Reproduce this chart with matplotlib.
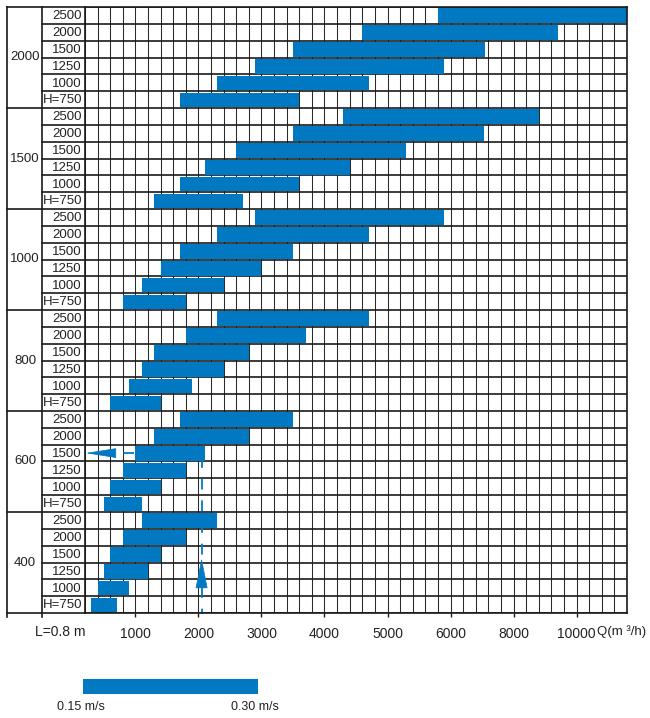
import numpy as np
import matplotlib
matplotlib.use('Agg')
import matplotlib.pyplot as plt

plt.rcParams['font.family'] = ['Liberation Sans', 'DejaVu Sans']

# ---------------- data ----------------
group_labels = ['2000', '1500', '1000', '800', '600', '400']
row_labels = ['2500', '2000', '1500', '1250', '1000', 'H=750']

start_2000 = [5800, 4600, 3500, 2900, 2300, 1700]
end_2000 = [11600, 9400, 7100, 5900, 4700, 3600]
start_1500 = [4300, 3500, 2600, 2100, 1700, 1300]
end_1500 = [8800, 7050, 5300, 4400, 3600, 2700]
start_1000 = [2900, 2300, 1700, 1400, 1100, 800]
end_1000 = [5900, 4700, 3500, 3000, 2400, 1800]
start_800 = [2300, 1800, 1300, 1100, 900, 600]
end_800 = [4700, 3700, 2800, 2400, 1900, 1400]
start_600 = [1700, 1300, 1000, 800, 600, 500]
end_600 = [3500, 2800, 2100, 1800, 1400, 1100]
start_400 = [1100, 800, 600, 500, 400, 300]
end_400 = [2300, 1800, 1400, 1200, 900, 700]

tick_values = [1000, 2000, 3000, 4000, 5000, 6000, 8000, 10000]
tick_labels = ['1000', '2000', '3000', '4000', '5000', '6000', '8000', '10000']
q_min, q_break, q_max = 200, 6000, 11600
step_low, step_high = 200, 400

# example (reading) line
example_q = 2050
example_from_q = 1000

starts = [start_2000, start_1500, start_1000, start_800, start_600, start_400]
ends = [end_2000, end_1500, end_1000, end_800, end_600, end_400]

# ---------------- scale ----------------
n_low = (q_break - q_min) / step_low


def fwd(q):
    q = np.asarray(q, dtype=float)
    return np.where(q < q_break, (q - q_min) / step_low, n_low + (q - q_break) / step_high)


def inv(u):
    u = np.asarray(u, dtype=float)
    return np.where(u < n_low, q_min + step_low * u, q_break + step_high * (u - n_low))


W, H = 650, 718
fig = plt.figure(figsize=(W / 100, H / 100), dpi=100)

gl, gr, gt, gb = 85, 627, 7, 613
ax = fig.add_axes([gl / W, 1 - gb / H, (gr - gl) / W, (gb - gt) / H])
ax.set_xscale('function', functions=(fwd, inv))
ax.set_xlim(q_min, q_max)
nrows = len(group_labels) * len(row_labels)
ax.set_ylim(nrows, 0)

line_col = '#1a1a1a'
grid_col = '#2a2a2a'
bar_col = '#0079c2'
txt_col = '#222222'

grid_q = np.concatenate([np.arange(q_min, q_break, step_low), np.arange(q_break, q_max + 1, step_high)])
ax.set_xticks(grid_q, minor=True)
ax.set_xticks(tick_values)
ax.set_xticklabels(tick_labels, fontsize=10, color=txt_col)
ax.tick_params(axis='x', which='major', direction='out', length=3, width=1, pad=7, color=line_col)
ax.tick_params(axis='x', which='minor', length=0)
ax.set_yticks([])
ax.grid(True, axis='x', which='both', color=grid_col, lw=0.75)
ax.set_axisbelow(True)
for r in range(nrows + 1):
    ax.axhline(r, color=line_col, lw=1.2, zorder=0.6)
for s in ax.spines.values():
    s.set_color(line_col)
    s.set_linewidth(1.2)

# bars
for gi in range(len(group_labels)):
    for ri in range(len(row_labels)):
        y = gi * len(row_labels) + ri + 0.52
        ax.barh(y, ends[gi][ri] - starts[gi][ri], left=starts[gi][ri], height=0.88,
                color=bar_col, edgecolor='none', zorder=1)

# reading example: dashed lines and arrowheads
row_600_1500 = group_labels.index('600') * len(row_labels) + row_labels.index('1500')
ax.plot([example_q, example_q], [row_600_1500 + 0.75, nrows], ls=(0, (6, 6)), color=bar_col, lw=1.3, zorder=0.8)
ax.annotate('', xy=(example_q, 32.75), xytext=(example_q, 34.4),
            arrowprops=dict(arrowstyle='-|>,head_length=2.0,head_width=0.4', color=bar_col, lw=0.5,
                            shrinkA=0, shrinkB=0), zorder=3)
yh = row_600_1500 + 0.5
ax.plot([example_from_q - 15, 660], [yh, yh], ls=(0, (6, 6)), color=bar_col, lw=1.3, zorder=0.8)
ax.annotate('', xy=(212, yh), xytext=(690, yh),
            arrowprops=dict(arrowstyle='-|>,head_length=2.0,head_width=0.32', color=bar_col, lw=0.5,
                            shrinkA=0, shrinkB=0), zorder=3)

# ---------------- label table on the left ----------------
lax = fig.add_axes([7 / W, 1 - gb / H, (gl - 7) / W, (gb - gt) / H])
lax.set_xlim(0, gl - 7)
lax.set_ylim(nrows, 0)
lax.axis('off')
colx = 42 - 7
kw = dict(color=line_col, clip_on=False)
lax.plot([0, 0], [0, nrows + 0.25], lw=1.2, **kw)
lax.plot([colx, colx], [0, nrows + 0.25], lw=1.2, **kw)
for r in range(nrows + 1):
    x0 = 0 if r % len(row_labels) == 0 else colx
    lax.plot([x0, gl - 7], [r, r], lw=1.2, **kw)
for gi, g in enumerate(group_labels):
    lax.text(colx / 2 + 0.5, gi * len(row_labels) + len(row_labels) / 2, g, ha='center', va='center',
             fontsize=9.5, color=txt_col)
    for ri, rl in enumerate(row_labels):
        lax.text(gl - 7 - 3, gi * len(row_labels) + ri + 0.55, rl, ha='right', va='center',
                 fontsize=9.5, color=txt_col)

fig.text(60 / W, 1 - 632 / H, 'L=0.8 m', ha='center', va='center', fontsize=10, color=txt_col)
fig.text(597 / W, 1 - 632 / H, 'Q(m ³/h)', ha='left', va='center', fontsize=9.5, color=txt_col)

# ---------------- velocity legend ----------------
leg = fig.add_axes([83 / W, 1 - 694 / H, (258 - 83) / W, 15 / H])
leg.barh(0, 1, left=0, height=1, color=bar_col)
leg.set_xlim(0, 1)
leg.set_ylim(-0.5, 0.5)
leg.axis('off')
fig.text(81 / W, 1 - 707 / H, '0.15 m/s', ha='center', va='center', fontsize=9, color=txt_col)
fig.text(255 / W, 1 - 707 / H, '0.30 m/s', ha='center', va='center', fontsize=9, color=txt_col)

fig.savefig('out.png', dpi=100)
